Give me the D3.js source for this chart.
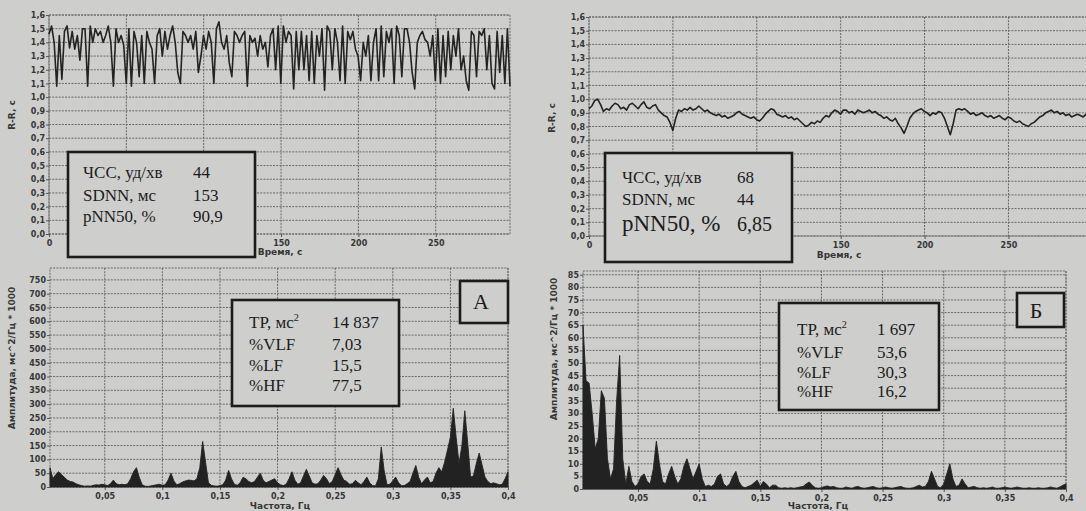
<!DOCTYPE html>
<html>
<head>
<meta charset="utf-8">
<script src="https://cdn.jsdelivr.net/npm/d3@7"></script>
<style>
  body { margin: 0; background: #cecfcc; }
  svg { display: block; }
  .tick text { font-family: "DejaVu Sans", sans-serif; font-weight: bold; font-size: 8px; fill: #363636; }
  .tick line { stroke: #555; }
  .axisTitle { font-family: "DejaVu Sans", sans-serif; font-weight: bold; font-size: 9px; fill: #363636; }
  .grid { stroke: #686868; stroke-width: 1; stroke-dasharray: 2,1.2; fill: none; }
  .boxText { font-family: "Liberation Serif", "Times New Roman", serif; fill: #1c1c1c; }
</style>
</head>
<body>
<svg id="chart" width="1086" height="511"></svg>
<script>
// R-R intervals (s), panel A (44 bpm, high variability)
var rrA = [
  1.46,1.52,1.40,1.08,1.45,1.13,1.48,1.52,1.36,1.48,1.35,1.45,1.27,1.50,1.50,1.08,1.52,1.40,1.50,1.45,
  1.48,1.40,1.45,1.52,1.40,1.08,1.50,1.40,1.45,1.38,1.10,1.50,1.08,1.48,1.40,1.15,1.45,1.10,1.48,1.40,
  1.35,1.10,1.45,1.50,1.30,1.48,1.35,1.45,1.52,1.40,1.18,1.10,1.48,1.45,1.40,1.45,1.35,1.48,1.18,1.30,
  1.45,1.35,1.48,1.40,1.10,1.50,1.55,1.40,1.35,1.45,1.25,1.15,1.48,1.45,1.40,1.45,1.48,1.08,1.45,1.40,
  1.43,1.30,1.45,1.35,1.40,1.22,1.45,
  1.50,1.20,1.52,1.10,1.52,1.40,1.48,1.45,1.06,1.48,1.20,1.48,1.20,1.45,1.12,1.48,1.10,1.45,1.30,1.50,
  1.05,1.52,1.48,1.20,1.50,1.40,1.12,1.52,1.10,1.48,1.42,1.48,1.35,1.30,1.12,1.40,1.30,1.45,1.12,1.40,
  1.50,1.12,1.52,1.15,1.48,1.40,1.50,1.10,1.52,1.45,1.15,1.50,1.50,1.40,1.18,1.06,1.40,1.45,1.48,1.42,
  1.40,1.30,1.45,1.12,1.50,1.10,1.45,1.15,1.48,1.20,1.45,1.30,1.50,1.20,1.30,1.12,1.05,1.48,1.45,1.15,
  1.48,1.45,1.50,1.20,1.45,1.10,1.06,1.48,1.18,1.45,1.10,1.50,1.08
];

// R-R intervals (s), panel Б (68 bpm, low variability)
var rrB = [
  0.93,0.95,0.99,1.00,0.96,0.91,0.93,0.92,0.95,0.97,0.96,0.93,0.94,0.92,0.96,0.97,0.95,0.93,0.96,0.98,
  0.94,0.93,0.95,0.96,0.92,0.90,0.88,0.87,0.83,0.77,0.86,0.92,
  0.91,0.93,0.92,0.94,0.92,0.93,0.95,0.93,0.91,0.92,0.90,0.89,0.88,0.89,0.87,0.88,0.86,0.87,0.88,0.90,
  0.91,0.89,0.88,0.87,0.86,0.87,0.85,0.84,0.86,
  0.89,0.91,0.93,0.92,0.89,0.88,0.87,0.88,0.86,0.87,0.85,0.86,0.84,0.82,0.80,0.81,0.83,0.82,0.84,0.83,
  0.86,0.88,0.87,0.90,0.92,0.91,0.89,0.92,
  0.92,0.90,0.91,0.89,0.92,0.91,0.90,0.91,0.92,0.90,0.91,0.89,0.88,0.86,0.87,0.85,0.84,0.86,0.82,0.79,
  0.75,0.80,
  0.86,0.89,0.91,0.92,0.93,0.91,0.90,0.88,0.90,0.89,0.91,0.90,0.86,0.80,0.74,0.82,0.92,0.93,
  0.92,0.93,0.91,0.89,0.90,0.88,0.89,0.90,0.88,0.87,0.88,0.86,0.87,0.88,0.86,0.85,0.87,0.86,0.84,0.83,
  0.84,0.82,0.81,0.80,0.82,0.83,0.85,0.87,
  0.88,0.90,0.91,0.92,0.90,0.91,0.89,0.90,0.88,0.89,0.87,0.88,0.89,0.88,0.87,0.89,0.88
];

// spectrum A, amplitude at 0.0025 Hz steps starting at 0.0025 Hz
var specA = [
  70,30,45,55,45,35,25,20,18,12, 8,5,3,4,3,6,8,7,10,8,
  5,12,25,12,8,10,8,12,30,55, 70,35,8,3,2,4,6,8,10,6,
  8,25,50,22,8,12,18,22,25,24, 22,30,70,165,90,15,6,4,3,5,
  8,25,60,30,10,6,15,35,30,20, 15,20,35,50,25,15,20,25,30,15,
  8,5,10,30,55,25,10,15,40,64, 40,15,10,12,25,42,30,12,20,45,
  70,45,25,20,10,12,24,15,8,20, 36,15,5,4,30,145,60,8,10,22,
  36,15,5,5,12,20,50,78,35,12, 25,36,15,20,50,70,55,90,134,180,
  285,180,85,150,276,160,36,40,85,123, 80,36,20,12,15,12,8,10,30,55
];

// spectrum Б, amplitude at 0.0025 Hz steps starting at 0.005 Hz
var specB = [
  65,43,42,30,16,20,39,36,12,4, 8,35,53,12,2,9,3,1,2,5,
  6,3,2,8,19,10,3,2,6,9, 5,2,4,9,12,8,4,7,10,4,
  1,1.5,1,2,5,6,2,1,2,5, 7,3,1,0.5,1,1.5,2.5,3.5,1,3,
  2,0.5,1.5,1.5,0.5,0.3,0.5,0.3,0.5,0.3, 0.5,0.8,1,2,2.8,1.5,0.5,0.3,0.5,1,
  1.2,0.8,1,0.5,0.3,0.3,0.8,0.5,0.3,0.8, 1,0.5,0.3,0.5,0.8,1,0.5,0.3,0.5,0.8,
  0.5,0.3,0.5,0.8,1,0.5,0.3,0.3,0.5,1, 1.5,0.8,1,3,7,4,1,0.5,2,6,
  10,4,1,1.5,4,2,0.5,0.8,1,0.5, 0.3,0.5,0.3,0.5,0.8,0.3,0.3,0.5,0.8,0.5,
  0.3,0.5,0.8,0.5,0.3,0.3,0.5,0.3,0.3,0.5, 0.3,0.3,0.5,0.8,0.5,0.3,0.8,1.5,2
];

var specStep = 0.0025;
var rrDuration = 298;

// tick values
var rrValueTicks = [0, 0.1, 0.2, 0.3, 0.4, 0.5, 0.6, 0.7, 0.8, 0.9, 1.0, 1.1, 1.2, 1.3, 1.4, 1.5, 1.6];
var timeTicks = [0, 50, 100, 150, 200, 250];
var ampTicksA = [0, 50, 100, 150, 200, 250, 300, 350, 400, 450, 500, 550, 600, 650, 700, 750];
var ampTicksB = [0, 5, 10, 15, 20, 25, 30, 35, 40, 45, 50, 55, 60, 65, 70, 75, 80, 85];
var freqTicks = [0.05, 0.1, 0.15, 0.2, 0.25, 0.3, 0.35, 0.4];

// text in the boxes
var statsA = [["ЧСС, уд/хв", "44"], ["SDNN, мс", "153"], ["pNN50, %", "90,9"]];
var statsB = [["ЧСС, уд/хв", "68"], ["SDNN, мс", "44"], ["pNN50, %", "6,85"]];
var powerA = [["TP, мс", "14 837"], ["%VLF", "7,03"], ["%LF", "15,5"], ["%HF", "77,5"]];
var powerB = [["TP, мс", "1 697"], ["%VLF", "53,6"], ["%LF", "30,3"], ["%HF", "16,2"]];

var svg = d3.select("#chart");
var bg = "#cecfcc";

var comma = s => s.replace(".", ",");
var fmt1 = d => comma(d3.format(".1f")(d));
var fmtPlain = d => comma(String(d));

// draws grid, axes and titles of one panel, returns the scales
function drawPanel(p) {
  var x = d3.scaleLinear().domain(p.xDomain).range([p.left, p.right]);
  var y = d3.scaleLinear().domain(p.yDomain).range([p.bottom, p.top]);
  var g = svg.append("g");

  g.selectAll(".hgrid")
    .data(p.yTicks)
    .enter()
    .append("line")
    .attr("class", "grid")
    .attr("x1", p.left).attr("x2", p.right)
    .attr("y1", d => y(d)).attr("y2", d => y(d));

  g.selectAll(".vgrid")
    .data(p.xTicks)
    .enter()
    .append("line")
    .attr("class", "grid")
    .attr("x1", d => x(d)).attr("x2", d => x(d))
    .attr("y1", p.top).attr("y2", p.bottom);

  g.append("rect")
    .attr("class", "grid")
    .attr("x", p.left).attr("y", p.top)
    .attr("width", p.right - p.left).attr("height", p.bottom - p.top);

  var yAxis = g.append("g")
    .attr("transform", `translate(${p.left},0)`)
    .call(d3.axisLeft(y).tickValues(p.yTicks).tickSize(3).tickPadding(1).tickFormat(p.yFormat));
  yAxis.select(".domain").remove();

  var xAxis = g.append("g")
    .attr("transform", `translate(0,${p.bottom})`)
    .call(d3.axisBottom(x).tickValues(p.xTicks).tickSize(3).tickPadding(3).tickFormat(p.xFormat));
  xAxis.select(".domain").remove();

  g.append("text")
    .attr("class", "axisTitle")
    .attr("text-anchor", "middle")
    .attr("x", p.xTitlePos[0]).attr("y", p.xTitlePos[1])
    .text(p.xTitle);

  g.append("text")
    .attr("class", "axisTitle")
    .attr("text-anchor", "middle")
    .attr("transform", `translate(${p.yTitlePos[0]},${p.yTitlePos[1]}) rotate(-90)`)
    .text(p.yTitle);

  return { x: x, y: y };
}

function drawRR(values, s) {
  var dt = rrDuration / (values.length - 1);
  var line = d3.line()
    .x((d, i) => s.x(i * dt))
    .y(d => s.y(d));
  svg.append("path")
    .datum(values)
    .attr("d", line)
    .attr("fill", "none")
    .attr("stroke", "#232323")
    .attr("stroke-width", 1.6)
    .attr("stroke-linejoin", "round");
}

function drawSpectrum(values, f0, s) {
  var area = d3.area()
    .x((d, i) => s.x(f0 + i * specStep))
    .y0(s.y(0))
    .y1(d => s.y(d));
  svg.append("path")
    .datum(values)
    .attr("d", area)
    .attr("fill", "#222")
    .attr("stroke", "#222")
    .attr("stroke-width", 0.9);
}

function drawBox(b) {
  svg.append("rect")
    .attr("x", b.x).attr("y", b.y)
    .attr("width", b.w).attr("height", b.h)
    .attr("fill", bg)
    .attr("stroke", "#1c1c1c")
    .attr("stroke-width", 2.6);
}

function drawStats(rows, b) {
  drawBox(b);
  rows.forEach(function(r, i) {
    var size = (b.sizes && b.sizes[i]) || b.size;
    var vsize = (b.valueSizes && b.valueSizes[i]) || b.size;
    var t = svg.append("text")
      .attr("class", "boxText")
      .attr("x", b.labelX).attr("y", b.baselines[i])
      .style("font-size", size + "px")
      .text(r[0]);
    if (r[0].indexOf("TP") === 0) {
      t.append("tspan")
        .attr("dy", -7)
        .style("font-size", (size * 0.6) + "px")
        .text("2");
    }
    svg.append("text")
      .attr("class", "boxText")
      .attr("x", b.valueX).attr("y", b.baselines[i])
      .style("font-size", vsize + "px")
      .text(r[1]);
  });
}

function drawLetter(letter, b) {
  drawBox(b);
  svg.append("text")
    .attr("class", "boxText")
    .attr("x", b.cx).attr("y", b.baseline)
    .attr("text-anchor", "middle")
    .style("font-size", b.size + "px")
    .text(letter);
}

// top left: tachogram A
var sRA = drawPanel({
  left: 49, right: 510, top: 15, bottom: 234,
  xDomain: [0, rrDuration], yDomain: [0, 1.6],
  xTicks: timeTicks, yTicks: rrValueTicks,
  xFormat: fmtPlain, yFormat: fmt1,
  xTitle: "Время, с", xTitlePos: [280, 255],
  yTitle: "R-R, c", yTitlePos: [15, 115]
});
drawRR(rrA, sRA);

// top right: tachogram Б
var sRB = drawPanel({
  left: 589, right: 1089, top: 17, bottom: 236,
  xDomain: [0, rrDuration], yDomain: [0, 1.6],
  xTicks: timeTicks, yTicks: rrValueTicks,
  xFormat: fmtPlain, yFormat: fmt1,
  xTitle: "Время, с", xTitlePos: [839, 258],
  yTitle: "R-R, c", yTitlePos: [555, 118]
});
drawRR(rrB, sRB);

// bottom left: spectrum A
var sSA = drawPanel({
  left: 50, right: 508, top: 268, bottom: 487,
  xDomain: [0.0025, 0.4], yDomain: [0, 793],
  xTicks: freqTicks, yTicks: ampTicksA,
  xFormat: fmtPlain, yFormat: fmtPlain,
  xTitle: "Частота, Гц", xTitlePos: [280, 509],
  yTitle: "Амплитуда, мс^2/Гц * 1000", yTitlePos: [15, 358]
});
drawSpectrum(specA, 0.0025, sSA);

// bottom right: spectrum Б
var sSB = drawPanel({
  left: 583, right: 1066, top: 271, bottom: 489,
  xDomain: [0.005, 0.4], yDomain: [0, 86.5],
  xTicks: freqTicks, yTicks: ampTicksB,
  xFormat: fmtPlain, yFormat: fmtPlain,
  xTitle: "Частота, Гц", xTitlePos: [818, 509],
  yTitle: "Амплитуда, мс^2/Гц * 1000", yTitlePos: [557, 349]
});
drawSpectrum(specB, 0.005, sSB);

// boxes with the indices
drawStats(statsA, { x: 68, y: 152, w: 187, h: 105, labelX: 83, valueX: 193, baselines: [178, 201, 222], size: 17 });
drawStats(statsB, { x: 605, y: 153, w: 187, h: 109, labelX: 622, valueX: 737, baselines: [183, 205, 231],
  size: 17, sizes: [17, 17, 23], valueSizes: [17, 17, 20] });
drawStats(powerA, { x: 232, y: 300, w: 167, h: 106, labelX: 249, valueX: 332, baselines: [328, 350, 371, 391], size: 17 });
drawStats(powerB, { x: 779, y: 303, w: 160, h: 107, labelX: 797, valueX: 877, baselines: [335, 358, 378, 397], size: 17 });

drawLetter("А", { x: 460, y: 281, w: 48, h: 42, cx: 481, baseline: 309, size: 22 });
drawLetter("Б", { x: 1017, y: 293, w: 47, h: 34, cx: 1036, baseline: 318, size: 22 });
</script>
</body>
</html>
